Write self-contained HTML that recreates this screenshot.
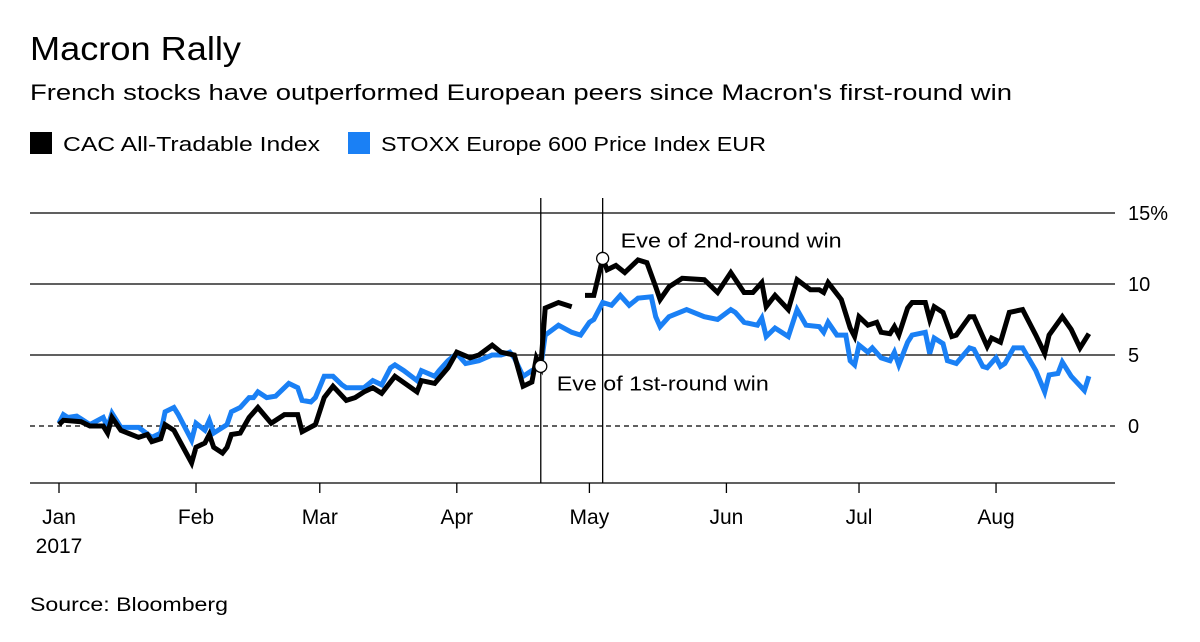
<!DOCTYPE html>
<html><head><meta charset="utf-8"><style>
body{margin:0;background:#fff;font-family:"Liberation Sans",Arial,sans-serif;}
svg text{font-family:"Liberation Sans",Arial,sans-serif;}
</style></head><body>
<svg width="1200" height="637" viewBox="0 0 1200 637">
<text x="30" y="60" font-size="33" textLength="211" lengthAdjust="spacingAndGlyphs" fill="#000">Macron Rally</text>
<text x="30" y="100" font-size="22" textLength="982" lengthAdjust="spacingAndGlyphs" fill="#000">French stocks have outperformed European peers since Macron's first-round win</text>
<g>
<rect x="30" y="132" width="22" height="22" fill="#000"/>
<text x="63" y="151" font-size="20" textLength="257" lengthAdjust="spacingAndGlyphs">CAC All-Tradable Index</text>
<rect x="348" y="132" width="22" height="22" fill="#1a80f5"/>
<text x="381" y="151" font-size="20" textLength="385" lengthAdjust="spacingAndGlyphs">STOXX Europe 600 Price Index EUR</text>
</g>
<g id="plot"></g>
<text x="30" y="611" font-size="19" textLength="198" lengthAdjust="spacingAndGlyphs">Source: Bloomberg</text>
</svg>
<script>
const yTicks=[15,10,5,0];
const yTickLabels=["15%","10","5","0"];
const monthDays=[0,31,59,90,120,151,181,212];
const monthLabels=["Jan","Feb","Mar","Apr","May","Jun","Jul","Aug"];
const eventDays=[109,123];
const eventLabels=["Eve of 1st-round win","Eve of 2nd-round win"];
const cacSeries=[[0,0.1],[1,0.4],[5,0.3],[7,0],[10,0],[11,-0.5],[12,0.6],[14,-0.3],[18,-0.8],[20,-0.6],[21,-1.1],[23,-0.9],[24,0.1],[26,-0.3],[30,-2.6],[31,-1.5],[33,-1.2],[34,-0.6],[35,-1.5],[37,-1.9],[38,-1.5],[39,-0.6],[41,-0.5],[43,0.6],[45,1.3],[48,0.2],[51,0.8],[54,0.8],[55,-0.4],[58,0.1],[60,2.0],[62,2.8],[65,1.8],[67,2.0],[69,2.4],[71,2.7],[73,2.3],[76,3.5],[81,2.4],[82,3.2],[85,3.0],[88,4.1],[90,5.2],[93,4.8],[95,5.0],[98,5.7],[100,5.2],[103,5.0],[105,2.8],[107,3.1],[108,4.8],[109,4.2],[110,8.3],[113,8.7],[116,8.4],null,[119,9.2],[121,9.2],[123,11.8],[124,11.0],[126,11.3],[128,10.8],[131,11.7],[133,11.5],[135,9.8],[136,8.9],[138,9.8],[141,10.4],[146,10.3],[149,9.4],[152,10.8],[155,9.4],[157,9.4],[159,10.1],[160,8.4],[162,9.2],[165,8.2],[167,10.3],[170,9.6],[172,9.6],[173,9.4],[174,10.1],[177,8.9],[179,6.9],[180,6.3],[181,7.7],[183,7.1],[185,7.3],[186,6.6],[188,6.5],[189,7.0],[190,6.4],[192,8.3],[193,8.7],[196,8.7],[197,7.5],[198,8.4],[200,8.0],[202,6.3],[203,6.4],[206,7.7],[207,7.7],[210,5.6],[211,6.2],[213,5.9],[215,8.0],[218,8.2],[220,7.0],[221,6.4],[223,5.1],[224,6.4],[227,7.7],[229,6.8],[231,5.5],[233,6.5]];
const stoxxSeries=[[0,0.2],[1,0.8],[2,0.6],[4,0.7],[5,0.5],[7,0.1],[10,0.6],[11,-0.1],[12,0.9],[14,-0.1],[18,-0.1],[21,-0.8],[23,-0.5],[24,1.0],[26,1.3],[27,0.8],[30,-1.0],[31,0.2],[33,-0.3],[34,0.4],[35,-0.5],[38,0.1],[39,1.0],[41,1.3],[43,2.0],[44,2.0],[45,2.4],[47,2.0],[49,2.1],[52,3.0],[54,2.7],[55,1.8],[57,1.7],[58,2.0],[60,3.5],[62,3.5],[64,2.9],[65,2.7],[69,2.7],[71,3.2],[73,2.9],[75,4.1],[76,4.3],[78,3.9],[81,3.2],[82,3.9],[85,3.5],[86,3.9],[88,4.6],[90,5.1],[92,4.4],[95,4.6],[98,5.0],[100,5.0],[102,5.2],[103,4.8],[105,3.5],[107,3.9],[109,4.2],[110,6.4],[113,7.1],[116,6.6],[118,6.4],[120,7.3],[121,7.5],[123,8.7],[125,8.5],[127,9.2],[129,8.5],[131,9.0],[134,9.1],[135,7.7],[136,7.0],[138,7.7],[142,8.2],[146,7.7],[149,7.5],[152,8.2],[153,8.0],[155,7.3],[158,7.1],[159,7.6],[160,6.3],[162,6.9],[165,6.3],[167,8.2],[169,7.1],[172,7.0],[173,6.6],[174,7.3],[176,6.4],[178,6.4],[179,4.6],[180,4.3],[181,5.7],[183,5.2],[184,5.5],[186,4.8],[188,4.6],[189,5.2],[190,4.3],[192,5.9],[193,6.4],[196,6.6],[197,5.1],[198,6.2],[200,5.8],[201,4.6],[203,4.4],[206,5.5],[207,5.4],[209,4.2],[210,4.1],[212,4.8],[213,4.2],[214,4.4],[216,5.5],[218,5.5],[221,3.9],[223,2.4],[224,3.6],[226,3.7],[227,4.5],[229,3.5],[232,2.5],[233,3.5]];

const NS="http://www.w3.org/2000/svg";
const plot=document.getElementById('plot');
const X=d=>59+d*4.42;
const Y=v=>426-v*14.2;
function mk(tag,attrs){const e=document.createElementNS(NS,tag);for(const k in attrs)e.setAttribute(k,attrs[k]);plot.appendChild(e);return e;}
yTicks.forEach((t,i)=>{
  const l=mk('line',{x1:30,x2:1115,y1:Y(t),y2:Y(t),stroke:'#000','stroke-width':t===0?1.2:1.3,'stroke-dasharray':t===0?'5,4':'none'});
  
  
  const tx=mk('text',{x:1128,y:Y(t)+7,'font-size':20});
  tx.textContent=yTickLabels[i];
  
  
});
const ax=mk('line',{x1:30,x2:1115,y1:483,y2:483,stroke:'#000','stroke-width':1.3});


monthDays.forEach((d,i)=>{
  const t=mk('line',{x1:X(d),x2:X(d),y1:483,y2:493,stroke:'#000','stroke-width':1.3});
  
  
  const tx=mk('text',{x:X(d),y:524,'font-size':21,'text-anchor':'middle'});
  tx.textContent=monthLabels[i];
  
  
});
const yr=mk('text',{x:X(0),y:553,'font-size':21,'text-anchor':'middle'});
yr.textContent='2017';


eventDays.forEach((d,i)=>{
  const l=mk('line',{x1:X(d),x2:X(d),y1:198,y2:483,stroke:'#000','stroke-width':1.3});
  
  
});
function pathFor(s){let p='',pen=false;s.forEach(pt=>{if(!pt){pen=false;return;}p+=(pen?'L':'M')+X(pt[0]).toFixed(1)+','+Y(pt[1]).toFixed(1);pen=true;});return p;}
const sb=mk('path',{d:pathFor(stoxxSeries),fill:'none',stroke:'#1a80f5','stroke-width':5,'stroke-linejoin':'miter'});


const cb=mk('path',{d:pathFor(cacSeries),fill:'none',stroke:'#000','stroke-width':5,'stroke-linejoin':'miter'});


function valAt(s,d){for(const p of s){if(p&&p[0]===d)return p[1];}return 0;}
eventDays.forEach((d,i)=>{
  const v=i===0?valAt(stoxxSeries,d):valAt(cacSeries,d);
  const c=mk('circle',{cx:X(d),cy:Y(v),r:6,fill:'#fff',stroke:'#000','stroke-width':1.3});
  
  
  const tx=mk('text',{x:X(d)+(i===0?16:18),y:i===0?Y(v)+24:Y(v)-11,'font-size':20,textLength:i===0?212:221,lengthAdjust:'spacingAndGlyphs'});
  tx.textContent=eventLabels[i];
  
  
});
</script>
</body></html>
